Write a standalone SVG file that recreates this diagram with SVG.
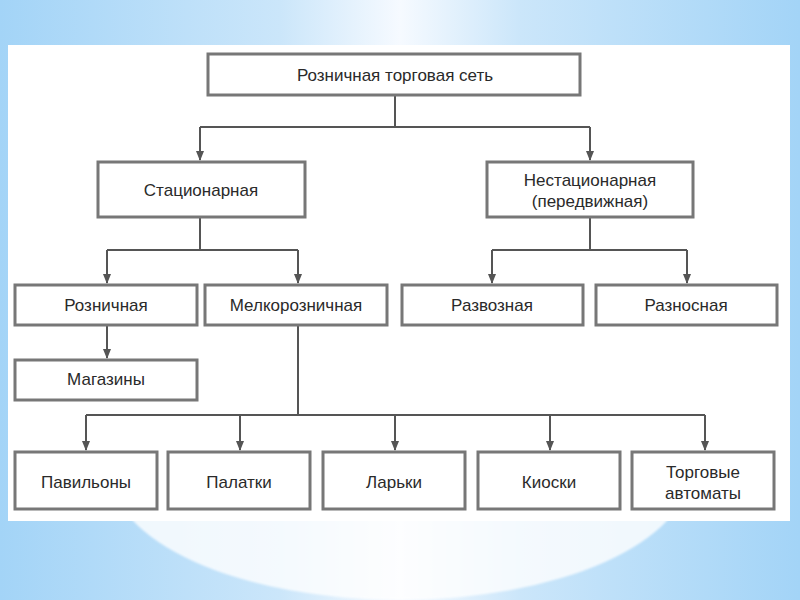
<svg xmlns="http://www.w3.org/2000/svg" width="800" height="600" viewBox="0 0 800 600">
<defs>
<linearGradient id="side" x1="0" y1="0" x2="1" y2="0">
<stop offset="0" stop-color="#a3d4f7"/>
<stop offset="0.35" stop-color="#cbe6fa"/>
<stop offset="0.5" stop-color="#f6faff"/>
<stop offset="0.65" stop-color="#cbe6fa"/>
<stop offset="1" stop-color="#a3d4f7"/>
</linearGradient>
<marker id="ar" viewBox="0 0 10 10" refX="9" refY="5" markerWidth="5" markerHeight="5" orient="auto">
<path d="M0,1 L10,5 L0,9 z" fill="#555"/>
</marker>
<filter id="sh" x="-10%" y="-10%" width="120%" height="130%">
<feGaussianBlur stdDeviation="1"/>
</filter>
</defs>
<style>
.box{fill:#fff;stroke:#777;stroke-width:3}
.t{font-family:"Liberation Sans",Arial,sans-serif;font-size:17px;fill:#2a2a2a;text-anchor:middle}
.ln{fill:none;stroke:#555;stroke-width:2}
</style>
<rect x="0" y="0" width="800" height="600" fill="url(#side)"/>
<ellipse cx="400" cy="470" rx="290" ry="130" fill="#ffffff" opacity="0.8" filter="url(#sh)"/>
<rect x="8" y="45" width="782" height="476" fill="#ffffff"/>

<g id="connectors">
<path class="ln" d="M395,95 V127"/>
<path class="ln" d="M200,127 H590"/>
<path class="ln" d="M200,127 V160" marker-end="url(#ar)"/>
<path class="ln" d="M590,127 V160" marker-end="url(#ar)"/>
<path class="ln" d="M200,217 V250"/>
<path class="ln" d="M107,250 H298"/>
<path class="ln" d="M107,250 V283" marker-end="url(#ar)"/>
<path class="ln" d="M298,250 V283" marker-end="url(#ar)"/>
<path class="ln" d="M590,217 V250"/>
<path class="ln" d="M492,250 H687"/>
<path class="ln" d="M492,250 V283" marker-end="url(#ar)"/>
<path class="ln" d="M687,250 V283" marker-end="url(#ar)"/>
<path class="ln" d="M107,325 V358" marker-end="url(#ar)"/>
<path class="ln" d="M298,325 V415"/>
<path class="ln" d="M86,415 H705"/>
<path class="ln" d="M86,415 V450" marker-end="url(#ar)"/>
<path class="ln" d="M240,415 V450" marker-end="url(#ar)"/>
<path class="ln" d="M395,415 V450" marker-end="url(#ar)"/>
<path class="ln" d="M550,415 V450" marker-end="url(#ar)"/>
<path class="ln" d="M705,415 V450" marker-end="url(#ar)"/>
</g>

<g id="root"><rect class="box" x="208" y="54" width="372" height="41"/><text class="t" x="395" y="81">Розничная торговая сеть</text></g>
<g id="stat"><rect class="box" x="98" y="162" width="207" height="55"/><text class="t" x="201" y="196">Стационарная</text></g>
<g id="nestat"><rect class="box" x="487" y="162" width="206" height="55"/><text class="t" x="590" y="186">Нестационарная</text><text class="t" x="590" y="207">(передвижная)</text></g>
<g id="rozn"><rect class="box" x="15" y="285" width="182" height="40"/><text class="t" x="106" y="311">Розничная</text></g>
<g id="melko"><rect class="box" x="205" y="285" width="182" height="40"/><text class="t" x="296" y="311">Мелкорозничная</text></g>
<g id="razvoz"><rect class="box" x="402" y="285" width="181" height="40"/><text class="t" x="492" y="311">Развозная</text></g>
<g id="raznos"><rect class="box" x="596" y="285" width="181" height="40"/><text class="t" x="686" y="311">Разносная</text></g>
<g id="magaz"><rect class="box" x="15" y="360" width="182" height="40"/><text class="t" x="106" y="385">Магазины</text></g>
<g id="pavil"><rect class="box" x="15" y="452" width="142" height="57"/><text class="t" x="86" y="488">Павильоны</text></g>
<g id="palat"><rect class="box" x="168" y="452" width="142" height="57"/><text class="t" x="239" y="488">Палатки</text></g>
<g id="lark"><rect class="box" x="323" y="452" width="142" height="57"/><text class="t" x="394" y="488">Ларьки</text></g>
<g id="kiosk"><rect class="box" x="478" y="452" width="142" height="57"/><text class="t" x="549" y="488">Киоски</text></g>
<g id="avtomat"><rect class="box" x="632" y="452" width="142" height="57"/><text class="t" x="703" y="478">Торговые</text><text class="t" x="703" y="499">автоматы</text></g>
</svg>
